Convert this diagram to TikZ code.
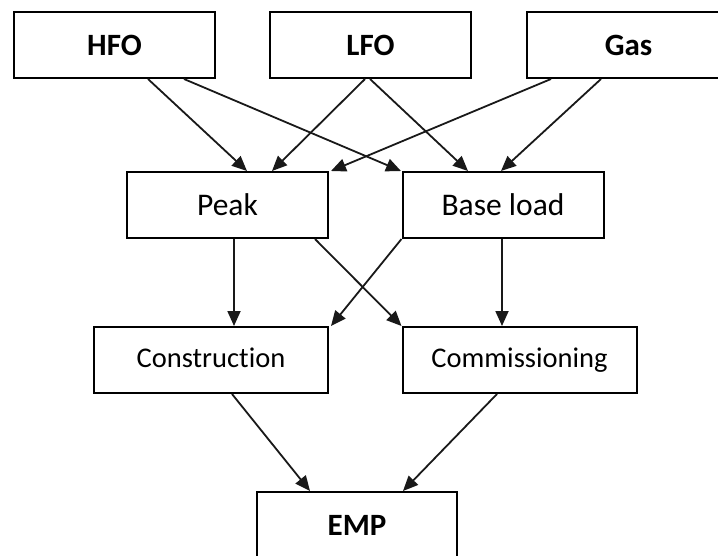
\documentclass[tikz,border=0pt]{standalone}
\usepackage{fontspec}
\setmainfont{Carlito}[Ligatures={NoCommon,NoContextual}]
\usetikzlibrary{arrows.meta}

\tikzset{
  box/.style={draw=black, line width=2pt, fill=white, rectangle,
              minimum height=66pt, inner sep=0pt, text=black},
  fuel/.style={box, font=\fontsize{31}{36}\selectfont\bfseries},
  plant/.style={box, font=\fontsize{31.5}{36}\selectfont},
  phase/.style={box, minimum width=234pt, text height=19pt, text depth=5pt,
                font=\fontsize{28.5}{34}\selectfont},
  arr/.style={draw=black!90, line width=1.8pt,
              -{Triangle[length=15pt,width=13pt]}},
}

\begin{document}
\begin{tikzpicture}[x=1pt,y=-1pt]
  \useasboundingbox (0,0) rectangle (718,555);
  \clip (0,0) rectangle (718,555);

  % fuel types
  \node[fuel, minimum width=201pt] (hfo) at (114.5,45) {HFO};
  \node[fuel, minimum width=201pt] (lfo) at (370.5,45) {LFO};
  \node[fuel, minimum width=203pt] (gas) at (628.5,45) {Gas};

  % plant operation modes
  \node[plant, minimum width=201pt] (peak) at (227.5,205) {Peak};
  \node[plant, minimum width=201pt] (base) at (503,205) {Base load};

  % project phases
  \node[phase] (constr) at (211,360) {Construction};
  \node[phase] (comm) at (519.5,360) {Commissioning};

  % environmental management plan
  \node[fuel, minimum width=200pt] (emp) at (357,525) {EMP};

  % fuels feeding the operation modes
  \draw[arr] ([xshift=33.5pt]hfo.south) -- ([xshift=19.5pt]peak.north);
  \draw[arr] ([xshift=69.5pt]hfo.south) -- ([xshift=-102pt]base.north);
  \draw[arr] ([xshift=-5.5pt]lfo.south) -- ([xshift=44.5pt]peak.north);
  \draw[arr] ([xshift=-0.5pt]lfo.south) -- ([xshift=-35pt]base.north);
  \draw[arr] ([xshift=-77.5pt]gas.south) -- ([xshift=2pt]peak.north east);
  \draw[arr] ([xshift=-27.5pt]gas.south) -- ([xshift=-2pt]base.north);

  % operation modes to project phases
  \draw[arr] ([xshift=6.5pt]peak.south) -- ([xshift=23pt]constr.north);
  \draw[arr] ([xshift=87.5pt]peak.south) -- (comm.north west);
  \draw[arr] (base.south west) -- ([xshift=2pt]constr.north east);
  \draw[arr] ([xshift=-1pt]base.south) -- ([xshift=-17.5pt]comm.north);

  % project phases to EMP
  \draw[arr] ([xshift=21pt]constr.south) -- ([xshift=-47pt]emp.north);
  \draw[arr] ([xshift=-22.5pt]comm.south) -- ([xshift=46pt]emp.north);
\end{tikzpicture}
\end{document}
